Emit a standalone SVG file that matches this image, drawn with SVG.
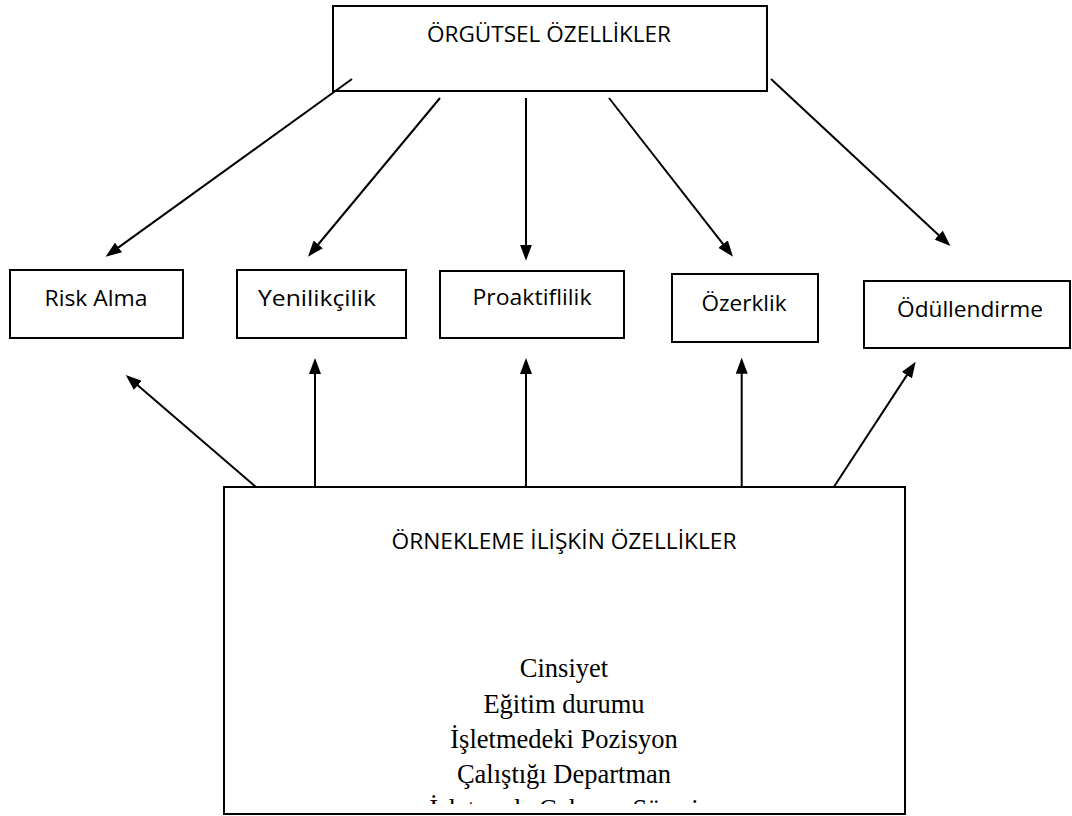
<svg xmlns="http://www.w3.org/2000/svg" width="1072" height="816" viewBox="0 0 1072 816">
<style>
.box{fill:#fff;stroke:#000;stroke-width:2}
.lbl{font-family:"Open Sans","Liberation Sans",sans-serif;font-size:22px;fill:#000;text-anchor:middle}
.ser{font-family:"Liberation Serif","Times New Roman",serif;font-size:26.5px;fill:#000;text-anchor:middle}
.con line{stroke:#000;stroke-width:2;marker-end:url(#ah)}
</style>
<defs>
<marker id="ah" markerUnits="userSpaceOnUse" markerWidth="16" markerHeight="12" viewBox="0 0 16 12" refX="6" refY="6" orient="auto">
<path d="M0,0 L16,6 L0,12 z" fill="#000"/>
</marker>
<clipPath id="clipB"><rect x="224" y="487" width="681" height="317"/></clipPath>
</defs>
<rect width="1072" height="816" fill="#fff"/>
<g id="orgutsel">
<rect class="box" x="333" y="6" width="434" height="85"/>
<text class="lbl" x="549" y="42" textLength="244" lengthAdjust="spacingAndGlyphs">ÖRGÜTSEL ÖZELLİKLER</text>
</g>
<g id="risk">
<rect class="box" x="10" y="270" width="173" height="68"/>
<text class="lbl" x="96" y="306" textLength="103" lengthAdjust="spacingAndGlyphs">Risk Alma</text>
</g>
<g id="yenilik">
<rect class="box" x="237" y="270" width="169" height="68"/>
<text class="lbl" x="317" y="306" textLength="118" lengthAdjust="spacingAndGlyphs">Yenilikçilik</text>
</g>
<g id="proaktif">
<rect class="box" x="440" y="271" width="184" height="67"/>
<text class="lbl" x="532" y="305" textLength="119" lengthAdjust="spacingAndGlyphs">Proaktiflilik</text>
</g>
<g id="ozerklik">
<rect class="box" x="672" y="274" width="146" height="68"/>
<text class="lbl" x="744" y="311" textLength="85" lengthAdjust="spacingAndGlyphs">Özerklik</text>
</g>
<g id="odul">
<rect class="box" x="864" y="281" width="206" height="67"/>
<text class="lbl" x="970" y="317" textLength="146" lengthAdjust="spacingAndGlyphs">Ödüllendirme</text>
</g>
<g id="ornek">
<rect class="box" x="224" y="487" width="681" height="327"/>
<text class="lbl" x="564" y="549" textLength="345" lengthAdjust="spacingAndGlyphs">ÖRNEKLEME İLİŞKİN ÖZELLİKLER</text>
<g clip-path="url(#clipB)">
<text class="ser" x="564" y="677">Cinsiyet</text>
<text class="ser" x="564" y="713">Eğitim durumu</text>
<text class="ser" x="564" y="748">İşletmedeki Pozisyon</text>
<text class="ser" x="564" y="783">Çalıştığı Departman</text>
<text class="ser" x="564" y="818">İşletmede Çalışma Süresi</text>
</g>
</g>
<g id="connectors" class="con">
<line x1="352" y1="79" x2="113.7" y2="250.9"/>
<line x1="440" y1="98" x2="314.4" y2="249"/>
<line x1="526" y1="98" x2="526" y2="250.7"/>
<line x1="609" y1="98" x2="726.8" y2="248.8"/>
<line x1="771" y1="79" x2="943.1" y2="239.2"/>
<line x1="255.7" y1="486.7" x2="133.3" y2="381.5"/>
<line x1="315" y1="487" x2="315" y2="368"/>
<line x1="526" y1="487" x2="526" y2="368"/>
<line x1="741.7" y1="487" x2="741.7" y2="367.7"/>
<line x1="834" y1="486.7" x2="910.2" y2="370.1"/>
</g>
</svg>
